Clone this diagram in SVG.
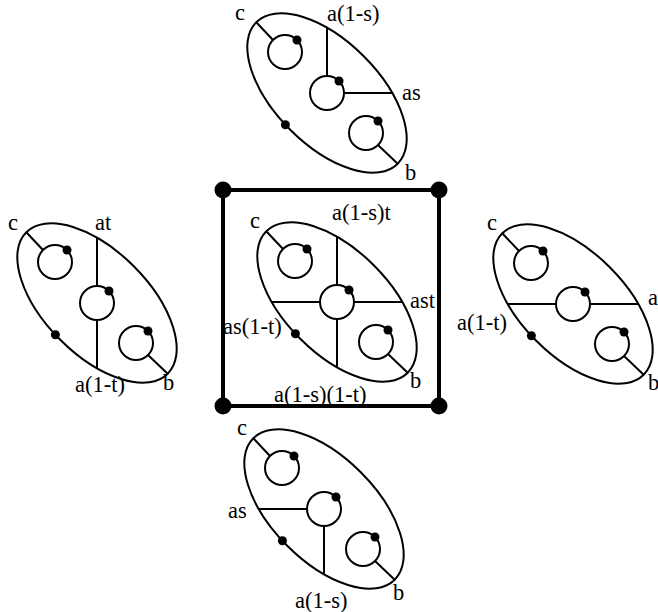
<svg xmlns="http://www.w3.org/2000/svg" xmlns:xlink="http://www.w3.org/1999/xlink" width="658" height="612" viewBox="0 0 658 612">
<style>
.s{fill:none;stroke:#000;stroke-width:2}
.d{fill:#000;stroke:none}
.sq{fill:none;stroke:#000;stroke-width:4}
text{font-family:"Liberation Serif","Times New Roman",serif;font-size:22.5px;fill:#000}
</style>
<defs>
<g id="base">
<ellipse class="s" cx="0" cy="0" rx="100" ry="52" transform="rotate(45)"/>
<circle class="s" cx="-42" cy="-41" r="17"/>
<circle class="d" cx="-30" cy="-53" r="4.5"/>
<circle class="s" cx="0" cy="0" r="17"/>
<circle class="d" cx="12" cy="-12" r="4.5"/>
<circle class="s" cx="39" cy="40" r="17"/>
<circle class="d" cx="51" cy="28" r="4.5"/>
<line class="s" x1="-70.7" y1="-70.7" x2="-54" y2="-53"/>
<line class="s" x1="51" y1="52" x2="70.7" y2="70.7"/>
<circle class="d" cx="-41.6" cy="31.7" r="4.5"/>
</g>
</defs>
<g id="connectors">
<rect class="sq" x="223" y="190" width="216" height="216"/>
<circle class="d" cx="223" cy="190" r="8.5"/>
<circle class="d" cx="439" cy="190" r="8.5"/>
<circle class="d" cx="223" cy="406" r="8.5"/>
<circle class="d" cx="439" cy="406" r="8.5"/>
</g>
<g id="top" transform="translate(327,93)">
<use xlink:href="#base"/>
<line class="s" x1="0" y1="-65" x2="0" y2="-17"/>
<line class="s" x1="17" y1="0" x2="65" y2="0"/>
</g>
<g id="top-labels">
<text x="235" y="20">c</text>
<text x="327" y="20.5">a(1-s)</text>
<text x="402" y="100">as</text>
<text x="405" y="180">b</text>
</g>
<g id="left" transform="translate(97,303)">
<use xlink:href="#base"/>
<line class="s" x1="0" y1="-65" x2="0" y2="-17"/>
<line class="s" x1="0" y1="17" x2="0" y2="65"/>
</g>
<g id="left-labels">
<text x="8" y="230">c</text>
<text x="95" y="230">at</text>
<text x="75" y="392">a(1-t)</text>
<text x="163" y="390">b</text>
</g>
<g id="center" transform="translate(337,302)">
<use xlink:href="#base"/>
<line class="s" x1="0" y1="-65" x2="0" y2="-17"/>
<line class="s" x1="0" y1="17" x2="0" y2="65"/>
<line class="s" x1="-65" y1="0" x2="-17" y2="0"/>
<line class="s" x1="17" y1="0" x2="65" y2="0"/>
</g>
<g id="center-labels">
<text x="250" y="228">c</text>
<text x="332" y="220">a(1-s)t</text>
<text x="410" y="308">ast</text>
<text x="223" y="334">as(1-t)</text>
<text x="410" y="388">b</text>
<text x="274" y="402">a(1-s)(1-t)</text>
</g>
<g id="right" transform="translate(573,304)">
<use xlink:href="#base"/>
<line class="s" x1="-65" y1="0" x2="-17" y2="0"/>
<line class="s" x1="17" y1="0" x2="65" y2="0"/>
</g>
<g id="right-labels">
<text x="487" y="230">c</text>
<text x="648" y="305">a</text>
<text x="457" y="330">a(1-t)</text>
<text x="648" y="390">b</text>
</g>
<g id="bottom" transform="translate(324,509)">
<use xlink:href="#base"/>
<line class="s" x1="-65" y1="0" x2="-17" y2="0"/>
<line class="s" x1="0" y1="17" x2="0" y2="65"/>
</g>
<g id="bottom-labels">
<text x="237" y="435">c</text>
<text x="228" y="518">as</text>
<text x="295" y="608">a(1-s)</text>
<text x="393" y="600">b</text>
</g>
</svg>
